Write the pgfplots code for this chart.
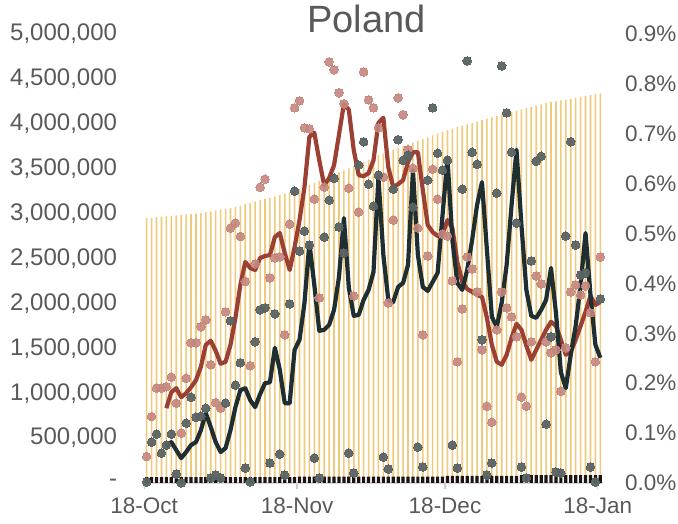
\documentclass[border=0pt]{standalone}
\usepackage{fontspec}
\setmainfont{Liberation Sans}
\usepackage{pgfplots}
\pgfplotsset{compat=1.18}
\usepackage{pgfplotstable}

\definecolor{txt}{HTML}{595959}
\definecolor{tests}{HTML}{F1C97A}
\definecolor{deaths}{HTML}{1C1512}
\definecolor{reddot}{HTML}{C4867E}
\definecolor{darkdot}{HTML}{596364}
\definecolor{redline}{HTML}{9C4034}
\definecolor{darkline}{HTML}{1F2E31}

% d = days since 18-Oct; tst, dth in millions (left axis); rd, dd, rl, dl in % (right axis)
\pgfplotstableread{
d tst dth rd dd rl dl
0 2.950 0.065 0.053 0.002 nan nan
1 2.955 0.065 0.133 0.082 nan nan
2 2.960 0.065 0.190 0.098 nan nan
3 2.965 0.065 0.190 0.060 nan nan
4 2.970 0.065 0.193 0.076 0.150 0.072
5 2.975 0.065 0.212 0.098 0.182 0.082
6 2.980 0.065 0.160 0.018 0.190 0.066
7 2.985 0.065 0.100 0.000 0.172 0.050
8 2.990 0.065 0.210 0.120 0.180 0.062
9 2.995 0.065 0.281 0.172 0.192 0.076
10 3.000 0.065 0.281 0.132 0.206 0.082
11 3.009 0.065 0.313 0.134 0.233 0.106
12 3.017 0.065 0.327 0.150 0.277 0.140
13 3.026 0.065 0.237 0.010 0.285 0.112
14 3.034 0.065 0.161 0.016 0.265 0.082
15 3.043 0.065 0.150 0.010 0.239 0.062
16 3.051 0.065 0.343 0.160 0.243 0.070
17 3.060 0.065 0.511 0.325 0.277 0.106
18 3.075 0.065 0.521 0.196 0.331 0.152
19 3.090 0.065 0.494 0.241 0.397 0.186
20 3.105 0.065 0.404 0.030 0.443 0.190
21 3.120 0.065 0.235 0.002 0.431 0.166
22 3.135 0.065 0.439 0.283 0.427 0.152
23 3.150 0.065 0.593 0.347 0.451 0.178
24 3.164 0.065 0.609 0.351 0.455 0.200
25 3.179 0.065 0.411 0.040 0.457 0.202
26 3.193 0.065 0.451 0.339 0.493 0.271
27 3.207 0.065 0.453 0.058 0.501 0.227
28 3.221 0.065 0.297 0.016 0.461 0.160
29 3.236 0.065 0.519 0.359 0.427 0.160
30 3.250 0.065 0.752 0.585 0.473 0.267
31 3.273 0.072 0.766 0.465 0.527 0.287
32 3.295 0.072 0.712 0.505 0.593 0.361
33 3.318 0.072 0.710 0.477 0.694 0.481
34 3.340 0.072 0.569 0.050 0.702 0.397
35 3.363 0.072 0.371 0.010 0.647 0.305
36 3.387 0.072 0.593 0.493 0.597 0.307
37 3.410 0.072 0.844 0.567 0.611 0.317
38 3.433 0.072 0.828 0.611 0.637 0.347
39 3.457 0.072 0.782 0.513 0.698 0.413
40 3.480 0.072 0.760 0.461 0.760 0.531
41 3.504 0.072 0.591 0.060 0.748 0.391
42 3.529 0.072 0.375 0.020 0.667 0.335
43 3.553 0.072 0.543 0.637 0.617 0.337
44 3.577 0.072 0.824 0.684 0.615 0.367
45 3.601 0.072 0.768 0.599 0.621 0.387
46 3.626 0.072 0.752 0.555 0.647 0.423
47 3.650 0.072 0.712 0.617 0.722 0.613
48 3.670 0.072 0.613 0.052 0.732 0.457
49 3.690 0.072 0.361 0.028 0.633 0.367
50 3.710 0.072 0.527 0.589 0.593 0.363
51 3.730 0.072 0.772 0.688 0.599 0.393
52 3.750 0.072 0.738 0.647 0.607 0.401
53 3.770 0.072 0.668 0.657 0.643 0.437
54 3.790 0.072 0.631 0.553 0.663 0.627
55 3.810 0.072 0.511 0.072 0.663 0.457
56 3.830 0.072 0.297 0.032 0.587 0.393
57 3.850 0.072 0.455 0.607 0.517 0.385
58 3.870 0.072 0.629 0.752 0.503 0.403
59 3.890 0.072 0.569 0.661 0.495 0.421
60 3.910 0.072 0.499 0.627 0.499 0.537
61 3.930 0.080 0.495 0.647 0.527 0.651
62 3.946 0.080 0.405 0.076 0.511 0.487
63 3.962 0.080 0.243 0.030 0.443 0.401
64 3.978 0.080 0.349 0.589 0.403 0.387
65 3.993 0.080 0.453 0.846 0.389 0.427
66 4.009 0.080 0.429 0.663 0.383 0.487
67 4.025 0.080 0.383 0.639 0.377 0.557
68 4.041 0.080 0.267 0.287 0.373 0.603
69 4.057 0.080 0.154 0.016 0.331 0.467
70 4.073 0.080 0.122 0.040 0.277 0.333
71 4.088 0.080 0.307 0.581 0.243 0.313
72 4.104 0.080 0.383 0.836 0.237 0.361
73 4.120 0.080 0.351 0.742 0.257 0.437
74 4.134 0.080 0.333 0.663 0.291 0.557
75 4.148 0.080 0.293 0.521 0.319 0.668
76 4.161 0.088 0.172 0.032 0.307 0.517
77 4.175 0.088 0.154 0.010 0.275 0.387
78 4.189 0.088 0.283 0.445 0.247 0.335
79 4.203 0.088 0.415 0.645 0.267 0.331
80 4.216 0.088 0.399 0.655 0.287 0.347
81 4.230 0.088 0.283 0.118 0.307 0.367
82 4.240 0.088 0.261 0.293 0.323 0.431
83 4.250 0.088 0.267 0.022 0.315 0.341
84 4.260 0.088 0.184 0.020 0.287 0.222
85 4.270 0.088 0.271 0.495 0.257 0.190
86 4.280 0.088 0.383 0.684 0.263 0.257
87 4.290 0.088 0.397 0.477 0.287 0.315
88 4.300 0.088 0.377 0.417 0.315 0.397
89 4.310 0.088 0.395 0.421 0.343 0.501
90 4.320 0.088 0.341 0.032 0.375 0.377
91 4.330 0.088 0.243 0.002 0.357 0.277
92 4.340 0.088 0.453 0.369 0.363 0.251
}\data

\begin{document}
\begin{tikzpicture}
\path[use as bounding box] (-144.2pt,-41pt) rectangle (533.8pt,483pt);

% left axis: bars
\begin{axis}[
    at={(0pt,0pt)}, anchor=south west,
    scale only axis, width=458.6pt, height=449pt,
    xmin=-0.5, xmax=92.5, ymin=0, ymax=5,
    axis x line*=bottom, axis y line*=left,
    x axis line style={-, draw=gray!30, line width=1.2pt},
    y axis line style={draw=none},
    xtick={-0.5,30.5,60.5,91.5},
    xticklabels={18-Oct,18-Nov,18-Dec,18-Jan},
    xtick align=outside, major tick length=6pt,
    xtick style={draw=gray!40, line width=1.2pt},
    ytick={0,0.5,1,1.5,2,2.5,3,3.5,4,4.5,5},
    yticklabels={{-},{500,000},{1,000,000},{1,500,000},{2,000,000},{2,500,000},{3,000,000},{3,500,000},{4,000,000},{4,500,000},{5,000,000}},
    ytick style={draw=none},
    tick label style={font=\fontsize{22.5}{26}\selectfont, text=txt},
    yticklabel style={inner sep=0pt, xshift=-27pt, font=\fontsize{24}{28}\selectfont},
    xticklabel style={inner sep=0pt, yshift=-9pt},
    title={Poland},
    title style={at={(0.485,0.991)}, anchor=base, font=\fontsize{38}{40}\selectfont, text=txt},
]
\addplot[ybar, bar width=1.6pt, bar shift=0pt, fill=tests, draw=none] table[x=d, y=tst] {\data};
\addplot[ybar, bar width=3.2pt, bar shift=0pt, fill=deaths, draw=none] table[x=d, y=dth] {\data};
\end{axis}

% right axis: daily dots and lines
\begin{axis}[
    at={(0pt,0pt)}, anchor=south west,
    scale only axis, width=458.6pt, height=449pt,
    xmin=-0.5, xmax=92.5, ymin=0, ymax=0.9,
    axis x line=none, axis y line*=right,
    y axis line style={draw=none},
    ytick={0,0.1,0.2,0.3,0.4,0.5,0.6,0.7,0.8,0.9},
    yticklabels={0.0\%,0.1\%,0.2\%,0.3\%,0.4\%,0.5\%,0.6\%,0.7\%,0.8\%,0.9\%},
    ytick style={draw=none},
    yticklabel style={inner sep=0pt, xshift=22pt, font=\fontsize{22.5}{26}\selectfont, text=txt},
    clip=false,
]
\addplot[only marks, mark=*, color=reddot, mark size=4.3pt, mark options={fill=reddot, draw=reddot, line width=0pt, opacity=0.9}] table[x=d, y=rd] {\data};
\addplot[only marks, mark=*, color=darkdot, mark size=4.3pt, mark options={fill=darkdot, draw=darkdot, line width=0pt, opacity=0.95}] table[x=d, y=dd] {\data};
\addplot[redline, line width=4.2pt, line join=round, no marks] table[x=d, y=rl] {\data};
\addplot[darkline, line width=4.2pt, line join=round, no marks] table[x=d, y=dl] {\data};
\end{axis}
\end{tikzpicture}
\end{document}
